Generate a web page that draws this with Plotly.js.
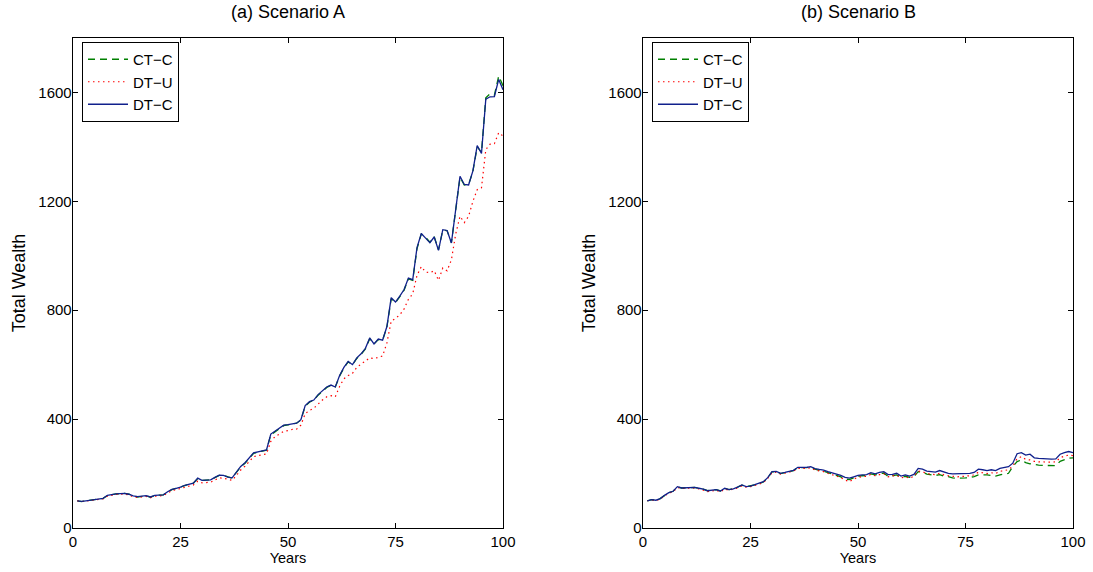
<!DOCTYPE html>
<html>
<head>
<meta charset="utf-8">
<script src="https://cdn.plot.ly/plotly-3.0.1.min.js"></script>
<style>html,body{margin:0;padding:0;background:#fff;}#chart{width:1093px;height:572px;}</style>
</head>
<body>
<div id="chart"></div>
<script>
// ---- Data ----
const seriesNames = ["CT\u2212C", "DT\u2212U", "DT\u2212C"];
const panelTitles = ["(a) Scenario A", "(b) Scenario B"];
const xTickVals = [0, 25, 50, 75, 100];
const yTickVals = [0, 400, 800, 1200, 1600];

const A_CTC = [100,97,100,102,104,106,109,119,123,125,
126,127,124,118,114,116,119,113,119,121,
122,132,141,146,150,156,161,165,181,175,
176,177,185,193,193,187,183,204,224,238,
256,274,279,282,286,342,354,364,376,379,
382,385,397,448,462,470,488,503,516,524,
518,558,588,610,600,623,638,658,695,676,
692,690,738,842,828,850,874,915,910,1026,
1080,1068,1050,1070,1022,1094,1092,1048,1160,1288,
1260,1262,1310,1400,1380,1580,1595,1590,1660,1625];

const A_DTU = [100,97,99,101,103,105,107,117,121,123,
124,125,121,115,112,113,116,111,117,118,
119,129,137,141,145,151,155,158,172,166,
167,168,176,184,183,178,175,193,213,227,
245,262,266,269,272,318,336,345,355,358,
362,363,378,420,432,440,456,470,482,486,
482,520,548,560,568,590,602,612,625,622,
628,632,680,760,770,783,805,840,860,928,
960,940,938,945,910,955,945,985,1080,1145,
1122,1145,1200,1243,1250,1390,1410,1412,1452,1440];

const A_DTC = [100,98,100,102,104,106,109,120,123,125,
126,127,124,118,115,116,119,114,120,121,
122,133,142,146,150,157,162,165,183,175,
176,177,186,194,193,187,184,205,226,240,
258,276,280,283,287,345,355,365,378,380,
383,385,398,450,464,470,490,505,518,525,
518,560,590,612,600,625,640,660,698,676,
694,690,740,846,830,852,876,918,912,1030,
1082,1065,1048,1069,1020,1096,1093,1047,1165,1292,
1262,1260,1312,1405,1376,1575,1584,1585,1648,1610];

const B_CTC = [100,104,102,108,119,130,135,151,147,148,
150,149,146,143,137,138,141,136,145,141,
144,150,157,152,154,158,163,169,184,206,
207,200,203,207,211,222,221,222,224,216,
212,209,203,199,193,188,180,178,185,190,
192,193,199,195,199,202,189,191,195,186,
190,186,189,207,205,198,195,193,196,190,
189,184,183,183,184,186,189,195,196,195,
193,191,195,198,201,226,244,250,240,236,
233,231,230,229,228,229,245,250,256,258];

const B_DTU = [100,103,101,106,118,128,133,149,145,146,
148,147,144,140,134,136,139,133,143,139,
142,147,155,150,152,156,161,167,182,203,
205,198,201,205,209,219,218,219,221,213,
210,207,201,196,190,185,176,170,180,186,
189,190,197,192,196,199,188,190,194,184,
188,183,190,209,207,200,197,196,201,195,
192,189,188,189,190,192,195,205,203,200,
203,200,208,211,214,228,255,262,252,250,
245,243,242,241,242,243,258,264,268,266];

const B_DTC = [100,104,102,108,120,130,135,152,147,148,
150,149,146,143,137,138,141,136,146,141,
144,150,158,152,154,159,164,170,185,207,
208,201,204,208,212,223,222,223,225,218,
215,213,207,203,198,193,186,183,188,193,
195,196,203,199,204,207,196,197,201,191,
195,191,197,219,216,209,207,205,211,206,
201,199,199,199,200,201,204,216,214,211,
214,211,219,222,225,238,273,277,268,271,
258,256,255,253,253,254,271,277,281,277];

const years = A_DTC.map((_, i) => i + 1);

// ---- Styles ----
const styles = [
  {color: "rgb(0,128,0)", dash: "7px,5px", width: 1.3},
  {color: "rgb(255,0,0)", dash: "1.5px,3.5px", width: 1.2},
  {color: "rgb(16,32,140)", dash: "solid", width: 1.3}
];

function mk(y, idx, xa, ya, leg) {
  return {
    x: years, y: y, type: "scatter", mode: "lines",
    name: seriesNames[idx], xaxis: xa, yaxis: ya, legend: leg,
    line: {color: styles[idx].color, dash: styles[idx].dash, width: styles[idx].width}
  };
}

const data = [
  mk(A_CTC, 0, "x", "y", "legend"),
  mk(A_DTU, 1, "x", "y", "legend"),
  mk(A_DTC, 2, "x", "y", "legend"),
  mk(B_CTC, 0, "x2", "y2", "legend2"),
  mk(B_DTU, 1, "x2", "y2", "legend2"),
  mk(B_DTC, 2, "x2", "y2", "legend2")
];

const W = 1093, H = 572;
const fam = "Liberation Sans, Arial, Helvetica, sans-serif";
const tickFont = {family: fam, size: 15, color: "#000"};
const xLabFont = {family: fam, size: 14.5, color: "#000"};
const yLabFont = {family: fam, size: 18, color: "#000"};
const titleFont = {family: fam, size: 18, color: "#000"};
const legFont = {family: fam, size: 15, color: "#000"};

function xax(l, r) {
  return {
    domain: [l / W, r / W], range: [0, 100], tickvals: xTickVals,
    ticks: "inside", ticklen: 5, tickcolor: "#000", tickwidth: 1,
    showline: true, linecolor: "#000", linewidth: 1.3, mirror: "ticks",
    showgrid: false, zeroline: false, tickfont: tickFont,
    title: {text: "Years", font: xLabFont, standoff: 0}, automargin: false
  };
}
function yax(anchor) {
  return {
    domain: [1 - 528 / H, 1 - 38 / H], range: [0, 1800], tickvals: yTickVals,
    ticks: "inside", ticklen: 5, tickcolor: "#000", tickwidth: 1,
    showline: true, linecolor: "#000", linewidth: 1.3, mirror: "ticks",
    showgrid: false, zeroline: false, tickfont: tickFont, anchor: anchor,
    ticklabelstandoff: -3,
    title: {text: "Total Wealth", font: yLabFont, standoff: 8}, automargin: false
  };
}

const legendBase = {
  bgcolor: "#fff", bordercolor: "#000", borderwidth: 1,
  font: legFont, xanchor: "left", yanchor: "top", tracegroupgap: 0,
  itemwidth: 40
};

const layout = {
  width: W, height: H,
  margin: {l: 0, r: 0, t: 0, b: 0},
  paper_bgcolor: "#fff", plot_bgcolor: "#fff",
  font: tickFont,
  showlegend: true,
  xaxis: Object.assign(xax(73, 503), {anchor: "y"}),
  yaxis: yax("x"),
  xaxis2: Object.assign(xax(643, 1073), {anchor: "y2"}),
  yaxis2: yax("x2"),
  legend: Object.assign({x: 82 / W, y: 1 - 42 / H}, legendBase),
  legend2: Object.assign({x: 652 / W, y: 1 - 42 / H}, legendBase),
  annotations: [
    {text: panelTitles[0], xref: "paper", yref: "paper", x: 288 / W, y: 1 - 12 / H,
     showarrow: false, font: titleFont, xanchor: "center", yanchor: "middle"},
    {text: panelTitles[1], xref: "paper", yref: "paper", x: 858 / W, y: 1 - 12 / H,
     showarrow: false, font: titleFont, xanchor: "center", yanchor: "middle"}
  ]
};

Plotly.newPlot("chart", data, layout, {staticPlot: true, displayModeBar: false});
</script>
</body>
</html>
